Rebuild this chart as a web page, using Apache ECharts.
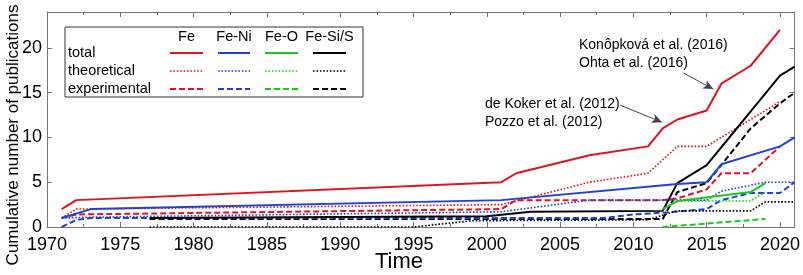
<!DOCTYPE html>
<html>
<head>
<meta charset="utf-8">
<script src="https://cdn.jsdelivr.net/npm/echarts@6/dist/echarts.min.js"></script>
<style>
html,body{margin:0;padding:0;background:#fff;}
#c{width:803px;height:275px;}
</style>
</head>
<body>
<div id="c"></div>
<script>
// ---- data (year, cumulative publications) ----
const feTotal = [[1971,2],[1972,3],[2001,5],[2002,6],[2007,8],[2011,9],[2012,11],[2013,12],[2015,13],[2016,16],[2018,18],[2020,22]];
const feTheo  = [[1971,1],[1972,2],[2001,2.5],[2007,5],[2011,6],[2013,9],[2015,9],[2020,14]];
const feExp   = [[1971,1],[1972,1.4],[2001,2],[2002,3],[2012,3],[2013,3.2],[2015,4.2],[2016,6],[2018,6],[2020,9]];
const niTotal = [[1971,1],[1973,2],[2001,3],[2013,4.8],[2015,5],[2016,7],[2020,9],[2021,10]];
const niTheo  = [[1971,1],[1973,1.1],[2001,1.7],[2007,3],[2015,3],[2016,4],[2019,5],[2021,5]];
const niExp   = [[1971,0],[1972,0.8],[1973,1],[2008,1],[2010,1.4],[2012,1.6],[2015,2],[2016,3],[2018,3.8],[2020,3.8],[2021,5]];
const oTotal  = [[2012,2],[2013,2.9],[2018,3.9],[2019,4.9]];
const oTheo   = [[2012,2],[2013,2.9],[2018,2.9],[2019,3.9]];
const oExp    = [[2012,0],[2019,0.9]];
const siTotal = [[1977,1],[2000,1.2],[2003,1.7],[2012,1.8],[2013,4.9],[2015,6.9],[2020,16.9],[2021,17.9]];
const siTheo  = [[1977,0],[1995,0],[1999,0.7],[2011,0.8],[2013,1.8],[2018,1.8],[2019,2.8],[2021,2.8]];
const siExp   = [[1977,0.9],[2012,0.9],[2013,3.9],[2015,4.9],[2018,11],[2020,13.8],[2021,15]];

const systems = ['Fe','Fe-Ni','Fe-O','Fe-Si/S'];
const rows = ['total','theoretical','experimental'];
const annotTexts = ['Konôpková et al. (2016)','Ohta et al. (2016)','de Koker et al. (2012)','Pozzo et al. (2012)'];
// arrows: [start, end] in data coordinates
const arrows = [
  [[2013.4,17.2],[2015.45,15.4]],
  [[2009.1,13.6],[2011.95,11.7]]
];

const colors = {'Fe':'#e3121b','Fe-Ni':'#2040dc','Fe-O':'#1cc81c','Fe-Si/S':'#000000'};
const styles = {
  total: {width:2, type:'solid'},
  theoretical: {width:1.6, type:[1.6,1.8]},
  experimental: {width:2, type:[6,3]}
};

const dataMap = {
  'Fe':[feTotal,feTheo,feExp],
  'Fe-Ni':[niTotal,niTheo,niExp],
  'Fe-O':[oTotal,oTheo,oExp],
  'Fe-Si/S':[siTotal,siTheo,siExp]
};

const FONT = '"Liberation Sans", Arial, sans-serif';
const series = [];
const order = ['Fe-Si/S','Fe-O','Fe-Ni','Fe'];
rows.slice().reverse().forEach(function(r){
  order.forEach(function(s){
    const i = rows.indexOf(r);
    series.push({
      name: s+' '+r, type:'line', data: dataMap[s][i], symbol:'none', smooth:false,
      lineStyle:{color:colors[s], width:styles[r].width, type:styles[r].type},
      z: 3, animation:false
    });
  });
});
series.push({
  type:'line', data:[], silent:true, animation:false,
  markLine:{
    silent:true, animation:false, symbol:['none','arrow'], symbolSize:[7,10],
    label:{show:false},
    lineStyle:{color:'#444', width:1, type:'solid'},
    data: arrows.map(function(a){ return [{coord:a[0]},{coord:a[1]}]; })
  }
});

// legend drawn as graphic
const gfx = [];
const lx0 = 65, ly0 = 27, lw = 298, lh = 70;
gfx.push({type:'rect', shape:{x:lx0,y:ly0,width:lw,height:lh}, style:{fill:'#fff', stroke:'#333', lineWidth:1}, z:10});
const colX = [[170,203],[218,250],[265,298],[313,346]];
const rowY = [53,71,89];
systems.forEach(function(s,j){
  gfx.push({type:'text', x:(colX[j][0]+colX[j][1])/2, y:37, style:{text:s, font:'14.5px '+FONT, fill:'#000', align:'center', verticalAlign:'middle'}, z:11});
  rows.forEach(function(r,i){
    const st = styles[r];
    gfx.push({type:'line', shape:{x1:colX[j][0],y1:rowY[i],x2:colX[j][1],y2:rowY[i]}, style:{stroke:colors[s], lineWidth:st.width, lineDash: st.type==='solid'?null:st.type}, z:11});
  });
});
rows.forEach(function(r,i){
  gfx.push({type:'text', x:68, y:rowY[i], style:{text:r, font:'14.5px '+FONT, fill:'#000', align:'left', verticalAlign:'middle'}, z:11});
});
// annotations
const annotPos = [[579,45],[579,63],[485,104],[485,122]];
annotTexts.forEach(function(t,i){
  gfx.push({type:'text', x:annotPos[i][0], y:annotPos[i][1], style:{text:t, font:'14px '+FONT, fill:'#000', align:'left', verticalAlign:'middle'}, z:11});
});
// axis titles
gfx.push({type:'text', x:399, y:262, style:{text:'Time', font:'22px '+FONT, fill:'#000', align:'center', verticalAlign:'middle'}, z:11});
gfx.push({type:'text', x:13, y:135, rotation:Math.PI/2, style:{text:'Cumulative number of publications', font:'17px '+FONT, fill:'#000', align:'center', verticalAlign:'middle'}, z:11});

const axisCol = '#777';
function xAx(pos, labels){
  return {type:'value', position:pos, min:1970, max:2021, interval:5,
    axisLine:{show:true, onZero:false, lineStyle:{color:axisCol, width:1}},
    axisTick:{show:true, inside:true, length:5, lineStyle:{color:axisCol}},
    minorTick:{show:true, splitNumber:2, length:3, lineStyle:{color:axisCol}},
    splitLine:{show:false}, minorSplitLine:{show:false},
    axisLabel:{show:labels, showMaxLabel:false, color:'#000', fontSize:18, margin:9, fontFamily:FONT,
      formatter:function(v){ return String(v); }}
  };
}
function yAx(pos, labels){
  return {type:'value', position:pos, min:0, max:24, interval:5,
    axisLine:{show:true, onZero:false, lineStyle:{color:axisCol, width:1}},
    axisTick:{show:true, inside:true, length:5, lineStyle:{color:axisCol}},
    splitLine:{show:false},
    axisLabel:{show:labels, showMaxLabel:false, color:'#000', fontSize:18, margin:5, fontFamily:FONT,
      formatter:function(v){ return String(v); }}
  };
}

const chart = echarts.init(document.getElementById('c'), null, {renderer:'canvas'});
chart.setOption({
  animation:false,
  backgroundColor:'#fff',
  grid:{left:47, top:12, width:750, height:215, containLabel:false},
  xAxis:[xAx('bottom',true), xAx('top',false)],
  yAxis:[yAx('left',true), yAx('right',false)],
  series: series,
  graphic: gfx
});
</script>
</body>
</html>
